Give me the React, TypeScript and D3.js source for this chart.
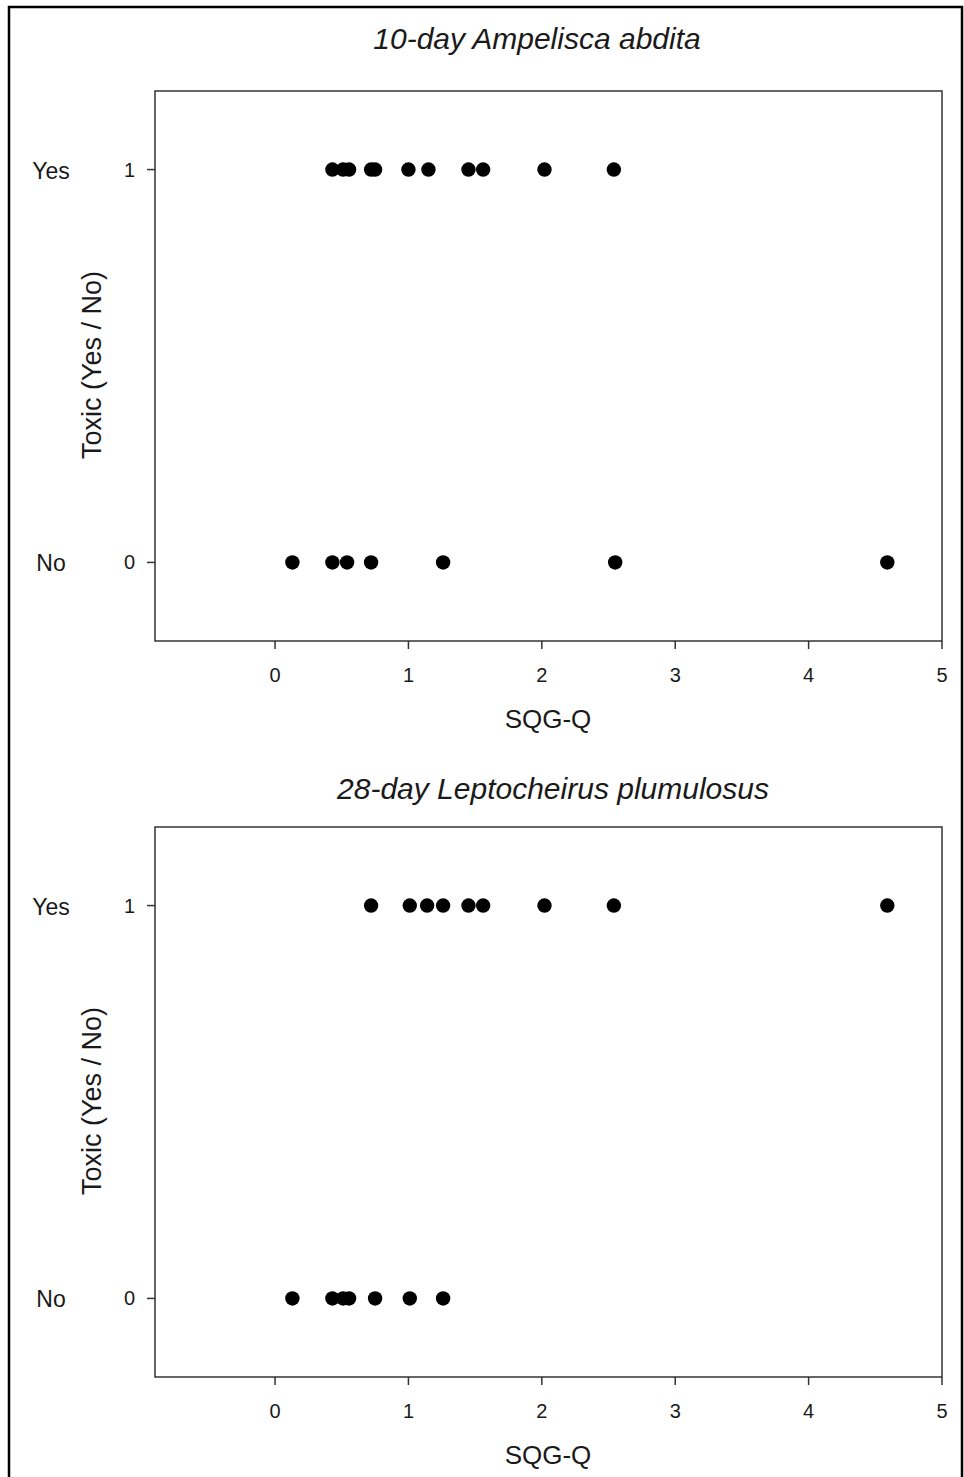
import React from 'react';
import * as d3 from 'd3';

// SQG-Q values where the test was toxic (1) or not toxic (0)
const ampeliscaYes = [0.43, 0.51, 0.555, 0.72, 0.75, 1.0, 1.15, 1.45, 1.56, 2.02, 2.54];
const ampeliscaNo = [0.13, 0.43, 0.54, 0.72, 1.26, 2.55, 4.59];
const leptoYes = [0.72, 1.01, 1.14, 1.26, 1.45, 1.56, 2.02, 2.54, 4.59];
const leptoNo = [0.13, 0.43, 0.51, 0.555, 0.75, 1.01, 1.26];

const xTicks = [0, 1, 2, 3, 4, 5];
const yTicks = [0, 1];
const yCategories = ['No', 'Yes'];

const FONT = 'Arial, "Liberation Sans", sans-serif';

type PanelProps = {
  top: number; title: string; titleX: number; titleY: number;
  yes: number[]; no: number[];
};

const Panel = ({ top, title, titleX, titleY, yes, no }: PanelProps) => {
  const left = 155, right = 942, plotH = 550;
  const x = d3.scaleLinear().domain([-0.9, 5]).range([left, right]);
  const y = d3.scaleLinear().domain([-0.2, 1.2]).range([top + plotH, top]);
  const pts = [
    ...yes.map(v => ({ v, t: 1 })),
    ...no.map(v => ({ v, t: 0 })),
  ];
  const axisColor = '#333';
  const txt = '#1a1a1a';

  return (
    <g fontFamily={FONT}>
      <text x={titleX} y={titleY} textAnchor="middle" fontSize={30} fontStyle="italic" fill={txt}>{title}</text>
      <rect x={left} y={top} width={right - left} height={plotH} fill="none" stroke={axisColor} strokeWidth={1.5} />
      {xTicks.map(t => (
        <g key={'x' + t}>
          <line x1={x(t)} x2={x(t)} y1={top + plotH} y2={top + plotH + 8} stroke={axisColor} strokeWidth={1.5} />
          <text x={x(t)} y={top + plotH + 41} textAnchor="middle" fontSize={20} fill={txt}>{t}</text>
        </g>
      ))}
      {yTicks.map(t => (
        <g key={'y' + t}>
          <line x1={left - 8} x2={left} y1={y(t)} y2={y(t)} stroke={axisColor} strokeWidth={1.5} />
          <text x={135} y={y(t) + 7} textAnchor="end" fontSize={20} fill={txt}>{t}</text>
          <text x={51} y={y(t) + 9} textAnchor="middle" fontSize={23} fill={txt}>{yCategories[t]}</text>
        </g>
      ))}
      <text transform={`translate(101,${top + plotH / 2 - 1}) rotate(-90)`} textAnchor="middle" fontSize={27} fill={txt}>Toxic (Yes / No)</text>
      <text x={548} y={top + plotH + 87} textAnchor="middle" fontSize={26} fill={txt}>SQG-Q</text>
      {pts.map((p, i) => (
        <circle key={i} cx={x(p.v)} cy={y(p.t)} r={7.2} fill="#000" />
      ))}
    </g>
  );
};

export default function App() {
  return (
    <svg width={964} height={1477} style={{ position: 'absolute', left: 0, top: 0, background: '#fff' }}>
      <rect x={0} y={0} width={964} height={1477} fill="#fff" />
      <rect x={9} y={7} width={953} height={1480} fill="none" stroke="#000" strokeWidth={2.5} />
      <Panel top={91} title="10-day Ampelisca abdita" titleX={537} titleY={49}
        yes={ampeliscaYes} no={ampeliscaNo} />
      <Panel top={827} title="28-day Leptocheirus plumulosus" titleX={553} titleY={799}
        yes={leptoYes} no={leptoNo} />
    </svg>
  );
}
